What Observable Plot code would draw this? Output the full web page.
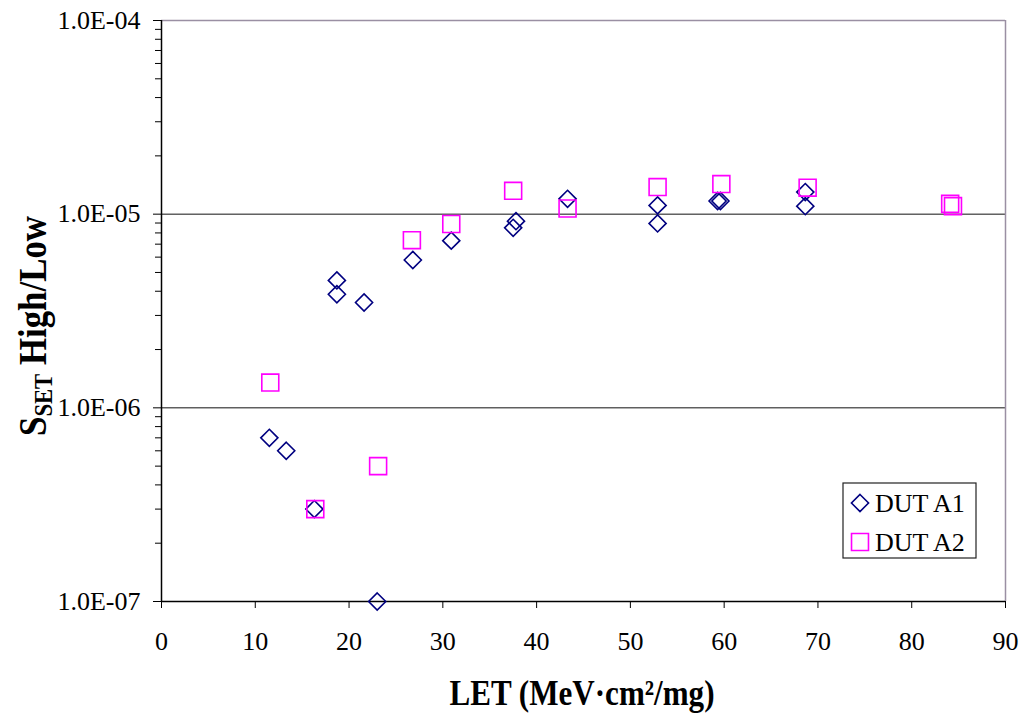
<!DOCTYPE html>
<html>
<head>
<meta charset="utf-8">
<script src="https://cdn.jsdelivr.net/npm/d3@7"></script>
<script src="https://cdn.jsdelivr.net/npm/@observablehq/plot@0.6"></script>
<style>
  html, body { margin: 0; padding: 0; background: white; }
</style>
</head>
<body>
<div id="chart"></div>
<script>
// ---- data ----
const a1X = [11.5, 13.3, 16.3, 18.7, 18.7, 21.6, 23.0, 26.8, 30.9, 37.5, 37.8, 43.3, 52.9, 52.9, 59.3, 59.6, 68.65, 68.65];
const a1Y = [7.0e-7, 6.0e-7, 3.0e-7, 4.55e-6, 3.86e-6, 3.5e-6, 1.0e-7, 5.8e-6, 7.3e-6, 8.5e-6, 9.2e-6, 1.2e-5, 1.11e-5, 8.96e-6, 1.17e-5, 1.17e-5, 1.30e-5, 1.10e-5];
const a2X = [11.6, 16.4, 23.1, 26.7, 30.9, 37.5, 43.3, 52.9, 59.7, 68.9, 84.1, 84.4];
const a2Y = [1.35e-6, 3.0e-7, 5.0e-7, 7.34e-6, 8.9e-6, 1.32e-5, 1.07e-5, 1.38e-5, 1.43e-5, 1.37e-5, 1.13e-5, 1.10e-5];
const seriesNames = ["DUT A1", "DUT A2"];
const yMajorTicks = [1e-7, 1e-6, 1e-5, 1e-4];
const yMinorTicks = [];
for (const d of [1e-7, 1e-6, 1e-5]) for (let k = 2; k <= 9; k++) yMinorTicks.push(k * d);
const xTicks = [0, 10, 20, 30, 40, 50, 60, 70, 80, 90];
const yGridLines = [1e-5, 1e-6];

const A1 = a1X.map((x, i) => ({x, y: a1Y[i]}));
const A2 = a2X.map((x, i) => ({x, y: a2Y[i]}));

const fmtY = d => {
  const e = Math.round(Math.log10(d));
  const s = String(Math.abs(e)).padStart(2, "0");
  return "1.0E" + (e < 0 ? "-" : "+") + s;
};

const navy = "#000080", magenta = "#ff00ff", frameGray = "#9a8fa3";

const chart = Plot.plot({
  width: 1024,
  height: 717,
  marginLeft: 161,
  marginRight: 19,
  marginTop: 20,
  marginBottom: 116,
  style: {fontFamily: "'Liberation Serif', serif", fontSize: "26px", color: "black", background: "white"},
  x: {domain: [0, 90]},
  y: {type: "log", domain: [1e-7, 1e-4]},
  marks: [
    Plot.ruleY(yGridLines, {stroke: "#111", strokeWidth: 1}),
    Plot.ruleY([1e-4], {stroke: frameGray, strokeWidth: 1.5}),
    Plot.ruleX([90], {stroke: frameGray, strokeWidth: 1.5}),
    Plot.axisY({ticks: yMajorTicks, tickFormat: fmtY, tickSize: 8, tickPadding: 13, label: null, fontSize: 26}),
    Plot.axisY({ticks: yMinorTicks, tickFormat: () => "", tickSize: 6, label: null}),
    Plot.axisX({ticks: xTicks, tickSize: 7, tickPadding: 23, label: null, fontSize: 26}),
    Plot.ruleX([0], {stroke: "#000", strokeWidth: 1.5}),
    Plot.ruleY([1e-7], {stroke: "#000", strokeWidth: 1.5}),
    Plot.dot(A1, {x: "x", y: "y", symbol: "diamond2", r: 7.7, stroke: navy, strokeWidth: 1.6, fill: "none"}),
    Plot.dot(A2, {x: "x", y: "y", symbol: "square2", r: 10.8, stroke: magenta, strokeWidth: 1.6, fill: "none"})
  ]
});

document.getElementById("chart").appendChild(chart);

// ---- titles and legend ----
const svg = d3.select(chart);
const ff = "'Liberation Serif', serif";

// x title
const xt = svg.append("text")
  .attr("x", 582).attr("y", 705)
  .attr("text-anchor", "middle")
  .attr("font-family", ff).attr("font-weight", "bold").attr("font-size", 35)
  .attr("textLength", 265).attr("lengthAdjust", "spacingAndGlyphs")
  .attr("fill", "black");
xt.text("LET (MeV·cm²/mg)");

// y title
const yt = svg.append("text")
  .attr("transform", "translate(46,326) rotate(-90)")
  .attr("text-anchor", "middle")
  .attr("font-family", ff).attr("font-weight", "bold").attr("font-size", 40)
  .attr("textLength", 220).attr("lengthAdjust", "spacingAndGlyphs")
  .attr("fill", "black");
yt.append("tspan").text("S");
yt.append("tspan").attr("font-size", 26).attr("dy", 6).text("SET");
yt.append("tspan").attr("dy", -6).text(" High/Low");

// legend
const lg = svg.append("g").attr("text-anchor", "start");
lg.append("rect").attr("x", 843).attr("y", 483).attr("width", 133).attr("height", 75)
  .attr("fill", "white").attr("stroke", "#222").attr("stroke-width", 1.2);
const symD = d3.symbol(d3.symbolDiamond2, Math.PI * 7.7 * 7.7)();
const symS = d3.symbol(d3.symbolSquare2, Math.PI * 10.8 * 10.8)();
lg.append("path").attr("d", symD).attr("transform", "translate(860,503)")
  .attr("fill", "none").attr("stroke", navy).attr("stroke-width", 1.6);
lg.append("path").attr("d", symS).attr("transform", "translate(860,542)")
  .attr("fill", "none").attr("stroke", magenta).attr("stroke-width", 1.6);
lg.append("text").attr("x", 875).attr("y", 512).attr("text-anchor", "start")
  .attr("font-family", ff).attr("font-size", 26).text(seriesNames[0]);
lg.append("text").attr("x", 875).attr("y", 551).attr("text-anchor", "start")
  .attr("font-family", ff).attr("font-size", 26).text(seriesNames[1]);
</script>
</body>
</html>
